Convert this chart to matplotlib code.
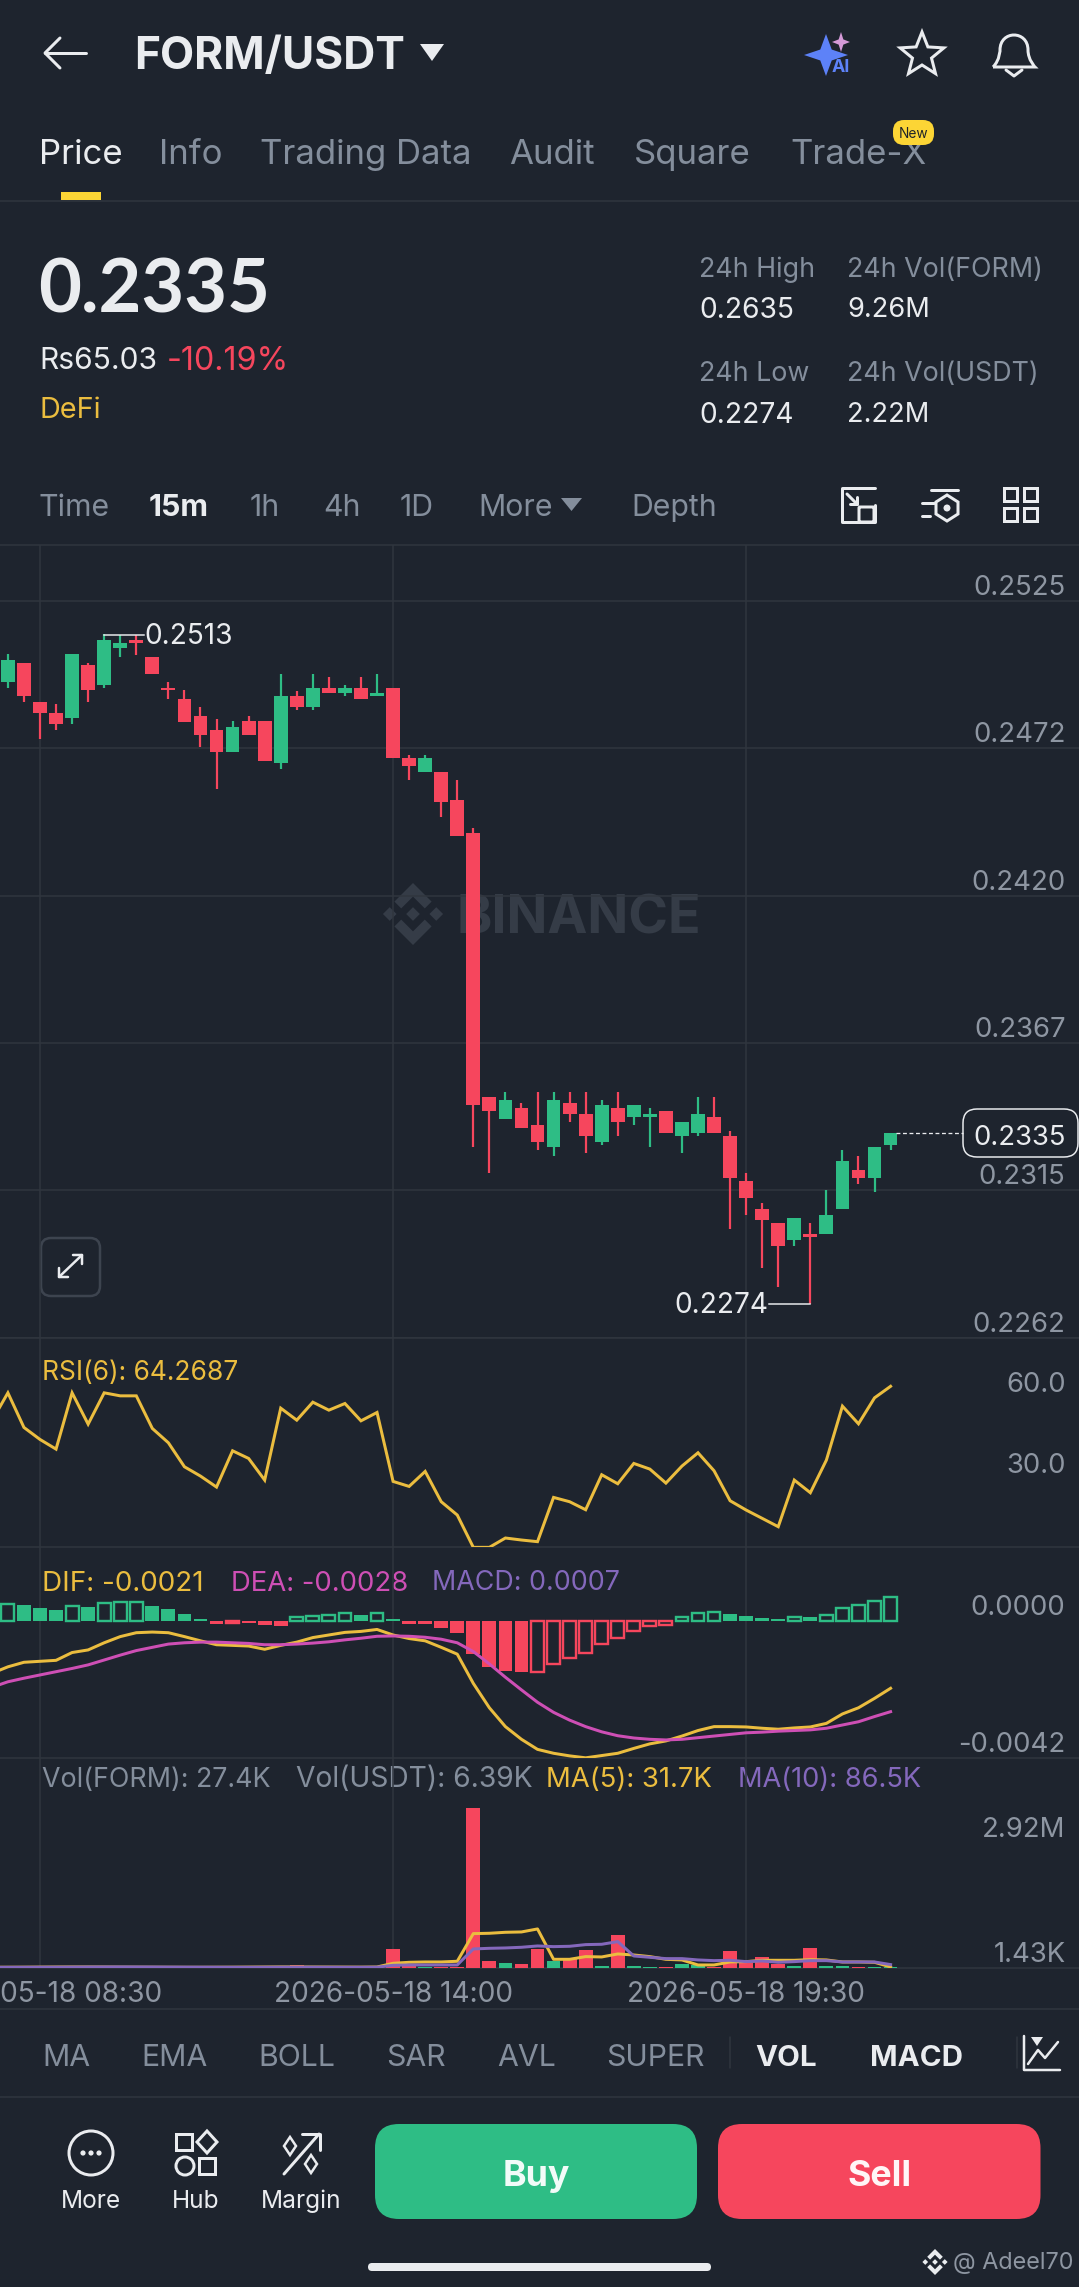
import numpy as np
import matplotlib
matplotlib.use("Agg")
import matplotlib.pyplot as plt
from matplotlib.patches import FancyBboxPatch, Polygon, Circle, Rectangle
from matplotlib.path import Path
from matplotlib.patches import PathPatch

opens = [.24960,.25030,.24891,.24850,.24831,.25020,.24950,.25081,.25111,.25050,.24941,.24900,.24841,.24789,.24711,.24820,.24820,.24670,.24911,.24870,.24939,.24920,.24939,.24911,.24941,.24691,.24641,.24641,.24539,.24420,
         .23478,.23399,.23438,.23379,.23299,.23459,.23418,.23319,.23438,.23409,.23409,.23429,.23340,.23349,.23409,.23340,.23178,.23079,.23028,.22968,.22988,.22988,.23079,.23218,.23188,.23309]
highs = [.25060,.25030,.24891,.24881,.25060,.25030,.25131,.25129,.25129,.25050,.24960,.24931,.24870,.24830,.24820,.24841,.24820,.24991,.24930,.24991,.24980,.24950,.24980,.24991,.24941,.24699,.24699,.24641,.24611,.24439,
         .23478,.23498,.23459,.23498,.23498,.23498,.23498,.23468,.23498,.23449,.23438,.23429,.23388,.23478,.23478,.23359,.23209,.23099,.23028,.23048,.23028,.23147,.23288,.23269,.23299,.23349]
lows = [.24941,.24891,.24757,.24789,.24811,.24889,.24941,.25050,.25058,.24989,.24900,.24819,.24730,.24577,.24711,.24770,.24680,.24650,.24860,.24860,.24920,.24911,.24900,.24911,.24691,.24611,.24641,.24480,.24410,.23299,
        .23209,.23399,.23369,.23288,.23269,.23388,.23279,.23309,.23340,.23379,.23299,.23349,.23279,.23340,.23349,.23007,.23059,.22869,.22799,.22948,.22738,.22988,.23079,.23168,.23138,.23288]
closes = [.25039,.24911,.24850,.24811,.25060,.24931,.25111,.25099,.25101,.24989,.24931,.24819,.24770,.24711,.24800,.24770,.24680,.24911,.24870,.24939,.24920,.24939,.24900,.24920,.24691,.24661,.24691,.24531,.24410,.23449,
          .23430,.23468,.23369,.23319,.23468,.23418,.23340,.23449,.23388,.23449,.23418,.23349,.23388,.23418,.23349,.23188,.23118,.23038,.22948,.23048,.22978,.23057,.23249,.23188,.23299,.23349]

rsi = [51.5,61.86,49.07,44.64,41.07,61.86,50.29,61.86,60.75,60.75,48.70,43.41,34.55,31.11,27.05,40.45,37.62,29.63,56.20,51.77,58.41,55.46,57.92,51.52,54.60,29.14,27.29,32.83,21.64,16.72,4.78,4.78,8.23,7.49,6.88,23.23,21.64,18.68,31.60,28.28,35.78,33.69,28.52,34.80,39.72,33.07,22.00,18.56,15.49,12.41,29.63,24.96,37.01,56.94,50.42,60.01,64.27]

dif = [-.00161,-.00141,-.00127,-.00124,-.00121,-.00097,-.00089,-.00067,-.00048,-.00036,-.00034,-.00036,-.00048,-.00061,-.00073,-.00075,-.00077,-.00087,-.00075,-.00065,-.00051,-.00043,-.00035,-.00032,-.00026,-.00043,-.00054,-.00061,-.00081,-.00102,-.00192,-.00267,-.00325,-.00364,-.00395,-.00407,-.00415,-.00421,-.00414,-.00407,-.00392,-.00378,-.00369,-.00354,-.00337,-.00325,-.00325,-.00326,-.00330,-.00333,-.00329,-.00326,-.00315,-.00286,-.00267,-.00238,-.00207]
dea = [-.00204,-.00187,-.00176,-.00166,-.00156,-.00146,-.00135,-.00120,-.00105,-.00091,-.00081,-.00071,-.00067,-.00065,-.00065,-.00067,-.00069,-.00073,-.00073,-.00071,-.00068,-.00064,-.00058,-.00053,-.00047,-.00046,-.00047,-.00050,-.00056,-.00067,-.00094,-.00132,-.00173,-.00212,-.00250,-.00281,-.00305,-.00325,-.00341,-.00353,-.00360,-.00364,-.00366,-.00364,-.00359,-.00354,-.00349,-.00344,-.00342,-.00339,-.00337,-.00335,-.00330,-.00320,-.00310,-.00294,-.00279]
macd = [.00051,.00048,.00041,.00034,.00047,.00042,.00054,.00058,.00059,.00047,.00036,.00021,.00007,-.00008,-.00007,-.00007,-.00013,-.00014,.00011,.00015,.00018,.00024,.00018,.00024,.00007,-.00008,-.00008,-.00023,-.00036,-.00103,-.00141,-.00153,-.00157,-.00156,-.00133,-.00113,-.00097,-.00071,-.00051,-.00031,-.00015,-.00012,.00011,.00024,.00028,.00022,.00015,.00008,.00007,.00011,.00011,.00019,.00039,.00048,.00062,.00073]

vol = [12e3,10e3,14e3,11e3,16e3,13e3,15e3,9e3,10e3,12e3,9e3,10e3,11e3,13e3,10e3,9e3,14e3,18e3,78e3,15e3,12e3,10e3,11e3,9e3,444e3,78e3,30e3,25e3,30e3,3753e3,171e3,117e3,101e3,444e3,179e3,210e3,428e3,55e3,771e3,45e3,40e3,40e3,109e3,78e3,39e3,413e3,132e3,273e3,93e3,60e3,483e3,45e3,45e3,40e3,35e3,27.4e3]
ma5 = [24e3,25e3,26e3,28e3,30e3,31e3,31e3,30e3,28e3,27e3,26e3,25e3,24e3,24e3,25e3,26e3,28e3,30e3,32e3,31e3,30e3,29e3,28e3,27e3,30e3,117e3,140e3,148e3,148e3,164e3,810e3,818e3,841e3,849e3,919e3,210e3,210e3,273e3,265e3,335e3,311e3,273e3,210e3,195e3,78e3,78e3,148e3,156e3,187e3,187e3,187e3,202e3,195e3,148e3,148e3,140e3,31.7e3]
ma10 = [22e3,23e3,24e3,25e3,26e3,28e3,30e3,31e3,32e3,31e3,30e3,28e3,27e3,26e3,25e3,24e3,24e3,25e3,26e3,27e3,26e3,25e3,24e3,24e3,26e3,70e3,78e3,78e3,78e3,78e3,452e3,467e3,475e3,491e3,522e3,506e3,514e3,553e3,561e3,623e3,288e3,257e3,226e3,226e3,195e3,179e3,187e3,156e3,171e3,140e3,156e3,179e3,179e3,148e3,148e3,148e3,86.5e3]

price_ticks = [.2525,.24724,.24198,.23672,.23146,.2262]
rsi_ticks = [60.0,30.0]
macd_ticks = [0.0,-0.0042]
vol_ticks = [1430,2920000]
vol_tick_labels = ["1.43K","2.92M"]
time_ticks = [2,24,46]
time_labels = ["2026-05-18 08:30","2026-05-18 14:00","2026-05-18 19:30"]
price_high, price_low, last_price = 0.2513, 0.2274, 0.2335

BG="#1E242E"; GRID="#30363F"; GREEN="#2EBD85"; RED="#F6465D"; YEL="#EBBD3F"; MAG="#CE4FB5"; PUR="#8468BC"
GRAY="#848E9C"; TICK="#8E96A2"; WHITE="#EAECEF"
FONT="Inter"
plt.rcParams['font.family']=[FONT,'DejaVu Sans']
W,H=1079,2287
fig=plt.figure(figsize=(W/100,H/100),dpi=100,facecolor=BG)
px=72/100
LW=3.0

ui=fig.add_axes([0,0,1,1],zorder=0); ui.set_xlim(0,W); ui.set_ylim(H,0); ui.axis('off')

def T(x,yc,s,cap,color=WHITE,ha='left',weight='normal',**kw):
    return ui.text(x,yc+cap/2,s,fontsize=cap/0.727*px,color=color,ha=ha,va='baseline',fontweight=weight,**kw)
def L(xs,ys,color=WHITE,lw=2.5,**kw):
    ui.plot(xs,ys,color=color,lw=lw*px,solid_capstyle='round',solid_joinstyle='round',**kw)
def box(x0,y0,x1,y1,r,fc='none',ec='none',lw=0,z=2):
    ui.add_patch(FancyBboxPatch((x0,y0),x1-x0,y1-y0,boxstyle=f"round,pad=0,rounding_size={r}",fc=fc,ec=ec,lw=lw*px,zorder=z))

ax_price=fig.add_axes([0,1-1337.5/H,1,(1337.5-545)/H],zorder=2,facecolor='none')
ax_rsi=fig.add_axes([0,1-1547.3/H,1,(1547.3-1337.5)/H],zorder=2,facecolor='none')
ax_macd=fig.add_axes([0,1-1757.5/H,1,(1757.5-1547.3)/H],zorder=2,facecolor='none')
ax_vol=fig.add_axes([0,1-1968.3/H,1,(1968.3-1757.5)/H],zorder=2,facecolor='none')

xs=np.arange(len(opens)); xl=np.arange(-1,len(opens))
o,c,h,l=map(np.array,(opens,closes,highs,lows))
up=c>=o; cols=np.where(up,GREEN,RED)
XLIM=(-0.492,66.74)

for a in (ax_price,ax_rsi,ax_macd,ax_vol):
    a.set_xlim(*XLIM)
    a.set_xticks(time_ticks)
    a.tick_params(axis='x',length=0,labelbottom=False)
    a.grid(axis='x',color=GRID,lw=1.5*px,zorder=0)
    a.set_axisbelow(True)
    for sp in ('left','right','top'): a.spines[sp].set_visible(False)
    a.spines['bottom'].set_color(GRID); a.spines['bottom'].set_linewidth(1.5*px)
    a.yaxis.tick_right()

def ylabels(a,ticks,labels):
    a.set_yticks(ticks); a.set_yticklabels(labels)
    a.tick_params(axis='y',length=0,pad=-13.5*px,labelsize=27.5*px,labelcolor=TICK)
    for t in a.get_yticklabels():
        t.set_ha('right'); t.set_va('bottom')

# price
ax_price.set_ylim(0.2262,0.2545)
ylabels(ax_price,price_ticks,[f"{v:.4f}" for v in price_ticks])
ax_price.grid(axis='y',color=GRID,lw=1.5*px,zorder=0)
ax_price.spines['top'].set_visible(True); ax_price.spines['top'].set_color(GRID); ax_price.spines['top'].set_linewidth(1.5*px)
ax_price.vlines(xs,l,h,colors=cols,lw=2.2*px,zorder=3)
ax_price.bar(xs,np.maximum(np.abs(c-o),0.00005),bottom=np.minimum(o,c),width=0.86,color=cols,zorder=4)
ax_price.plot([6,8.48],[price_high]*2,color=WHITE,lw=1.5*px,zorder=5)
ax_price.annotate(f"{price_high:.4f}",(8.48,price_high),xytext=(0,-2*px),textcoords='offset points',color=WHITE,fontsize=28*px,va='center',ha='left',zorder=5)
ax_price.plot([47.4,50],[price_low]*2,color=WHITE,lw=1.5*px,zorder=5)
ax_price.annotate(f"{price_low:.4f}",(47.4,price_low),xytext=(0,-2*px),textcoords='offset points',color=WHITE,fontsize=28*px,va='center',ha='right',zorder=5)
ax_price.plot([55.34,59.5],[last_price]*2,color=WHITE,lw=1.3*px,ls=(0,(3,2)),zorder=5)

# rsi
ax_rsi.set_ylim(4.8,82.3)
ylabels(ax_rsi,rsi_ticks,[f"{v:.1f}" for v in rsi_ticks])
ax_rsi.plot(xl,rsi,color=YEL,lw=LW*px,zorder=3,solid_joinstyle='miter')

# macd
ax_macd.set_ylim(-0.0042,0.002268)
ylabels(ax_macd,macd_ticks,[f"{v:.4f}" for v in macd_ticks])
m=np.array(macd); rising=np.diff(m,prepend=0.0)>0
mc=np.where(m>=0,GREEN,RED)
ax_macd.bar(xs[~rising],m[~rising],width=0.86,color=mc[~rising],zorder=3)
ax_macd.bar(xs[rising],m[rising],width=0.80,facecolor='none',edgecolor=mc[rising],lw=2.4*px,zorder=3)
ax_macd.plot(xl,dif,color=YEL,lw=LW*px,zorder=4)
ax_macd.plot(xl,dea,color=MAG,lw=LW*px,zorder=5)

# volume
ax_vol.set_ylim(0,4923000)
ylabels(ax_vol,vol_ticks,vol_tick_labels)
ax_vol.bar(xs,vol,width=0.86,color=cols,zorder=3)
ax_vol.plot(xl,ma5,color=YEL,lw=LW*px,zorder=4)
ax_vol.plot(xl,ma10,color=PUR,lw=LW*px,zorder=5)
ax_vol.set_xticklabels(time_labels)
ax_vol.tick_params(axis='x',labelbottom=True,labelsize=28*px,labelcolor=TICK,pad=9.5)

# header
L([86,45],[53,53],lw=3); L([60,45,60],[38,53,68],lw=3)
T(134,53,"FORM/USDT",32.3,weight='bold')
ui.add_patch(Polygon([(420,44),(444,44),(432,61)],fc=WHITE,ec='none'))
def star4(cx,cy,rx,ry,color):
    k=0.26
    ui.add_patch(Polygon([(cx,cy-ry),(cx+rx*k,cy-ry*k),(cx+rx,cy),(cx+rx*k,cy+ry*k),(cx,cy+ry),(cx-rx*k,cy+ry*k),(cx-rx,cy),(cx-rx*k,cy-ry*k)],fc=color,ec='none'))
star4(826,55,22,21,"#5D82F8"); star4(841,42,9,10,"#D59AD8")
T(832,66,"AI",13,color="#5D82F8",weight='bold')
ang=np.deg2rad(np.arange(0,360,36)-90); rad=np.where(np.arange(10)%2==0,23,10)
ui.add_patch(Polygon(np.c_[922+rad*np.cos(ang),55+rad*np.sin(ang)],fc='none',ec=WHITE,lw=3*px,joinstyle='miter'))
bell=Path([(993,67),(1000,60),(1000,50),(1000,50),(1000,30),(1028,30),(1028,50),(1028,60),(1035,67),(1035,67),(993,67)],
          [1,4,4,4,4,4,4,4,4,2,2])
ui.add_patch(PathPatch(bell,fc='none',ec=WHITE,lw=3*px))
L([1006,1014,1022],[70,76,70],lw=3)

tabs=[("Price",39,WHITE),("Info",159,GRAY),("Trading Data",260,GRAY),("Audit",509,GRAY),("Square",634,GRAY),("Trade-X",790,GRAY)]
for s,x,cl in tabs: T(x,151.5,s,25.3,color=cl)
box(893,120,934,145,11,fc="#FCD535",z=5)
T(913.5,132.5,"New",10,color="#1E2329",ha='center',zorder=6)
ui.add_patch(Rectangle((60.5,192),40,8,fc="#FCD535",ec='none'))
L([0,W],[200.5,200.5],color=GRID,lw=1.5)

T(38,286,"0.2335",53.8,weight='bold',family='Lato')
T(39,358,"Rs65.03",21.8)
T(167,358,"-10.19%",23.5,color=RED)
T(39,408,"DeFi",21,color=YEL)
T(699,267,"24h High",19.5,color=GRAY); T(847,267,"24h Vol(FORM)",19.5,color=GRAY)
T(699,307.5,"0.2635",20.5); T(847,307.5,"9.26M",19.8)
T(699,371,"24h Low",19.5,color=GRAY); T(847,371,"24h Vol(USDT)",19.5,color=GRAY)
T(699,412.5,"0.2274",20.5); T(847,412.5,"2.22M",19.8)

for s,x,cl,wt in [("Time",39,GRAY,'normal'),("15m",149,WHITE,'bold'),("1h",250,GRAY,'normal'),("4h",323,GRAY,'normal'),("1D",400,GRAY,'normal'),("More",478,GRAY,'normal'),("Depth",631,GRAY,'normal')]:
    T(x,504.5,s,22,color=cl,weight=wt)
ui.add_patch(Polygon([(561,498),(582,498),(571.5,511)],fc=GRAY,ec='none'))
# tool icons
L([858,842,842,875,875],[488,488,522,522,505],lw=3); L([858,875],[488,488],lw=3)
box(859,507,874,522,1,ec=WHITE,lw=3); L([847,857],[494,504],lw=3); L([857,850],[504,504],lw=3); L([857,857],[504,497],lw=3)
L([931,958],[490,490],lw=3); L([922,934],[503,503],lw=3); L([922,930],[516,516],lw=3)
ui.add_patch(Polygon([(947,495),(958,502),(958,514),(947,521),(936,514),(936,502)],fc='none',ec=WHITE,lw=3*px))
ui.add_patch(Circle((947,508),3.5,fc=WHITE,ec='none'))
for x0,y0 in [(1004,488),(1024,488),(1004,508),(1024,508)]:
    ui.add_patch(Rectangle((x0,y0),13,13,fc='none',ec=WHITE,lw=3*px))

# current price box
box(963,1109,1078,1157,14,fc=BG,ec=WHITE,lw=1.5,z=6)
T(1065.5,1135,f"{last_price:.4f}",20,ha='right',zorder=7)

# watermark
def logo(cx,cy,s,color,z=1):
    def dia(x,y,r): ui.add_patch(Polygon([(x,y-r),(x+r,y),(x,y+r),(x-r,y)],fc=color,ec='none',zorder=z))
    dia(cx,cy,.22*s); dia(cx-.75*s,cy,.22*s); dia(cx+.75*s,cy,.22*s)
    for sg in (-1,1):
        ui.add_patch(Polygon([(cx,cy+sg*s),(cx+.6*s,cy+sg*.4*s),(cx+.38*s,cy+sg*.18*s),(cx,cy+sg*.56*s),(cx-.38*s,cy+sg*.18*s),(cx-.6*s,cy+sg*.4*s)],fc=color,ec='none',zorder=z))
logo(413,914,31,"#353C47")
T(456,914,"BINANCE",39,color="#353C47",weight='bold',zorder=1)

# expand button
box(41,1238,100,1296,10,ec="#3D444F",lw=2.5)
L([59,82],[1277,1255],lw=2.5); L([59,59,68],[1268,1277,1277],lw=2.5); L([73,82,82],[1255,1255,1264],lw=2.5)

# indicator legends
T(42,1370.7,"RSI(6): 64.2687",19.2,color=YEL)
T(42,1580.7,"DIF: -0.0021",20.2,color=YEL)
T(231,1580.7,"DEA: -0.0028",20,color=MAG)
T(432,1580.7,"MACD: 0.0007",19.5,color=PUR)
T(42,1777,"Vol(FORM): 27.4K",19.5,color=GRAY)
T(296,1777,"Vol(USDT): 6.39K",20.5,color=GRAY)
T(546,1777,"MA(5): 31.7K",20,color=YEL)
T(738,1777,"MA(10): 86.5K",19.8,color=PUR)

# bottom
L([0,W],[2009.3,2009.3],color=GRID,lw=1.5)
for s,x in [("MA",42),("EMA",141),("BOLL",258),("SAR",386),("AVL",497),("SUPER",606)]:
    T(x,2055,s,22,color=GRAY)
T(755,2055,"VOL",21.5,weight='bold'); T(870,2055,"MACD",21.5,weight='bold')
L([729.5,729.5],[2037,2068],color=GRID,lw=1.5); L([1016.5,1016.5],[2037,2068],color=GRID,lw=1.5)
L([1024,1024,1060],[2036,2070,2070],lw=2.5); L([1028,1038,1045,1058],[2064,2050,2058,2042],lw=2.5)
ui.add_patch(Polygon([(1031,2037),(1043,2037),(1037,2046)],fc=WHITE,ec='none'))
L([0,W],[2097.3,2097.3],color=GRID,lw=1.5)

ui.add_patch(Circle((91,2153),22,fc='none',ec=WHITE,lw=3*px))
for dx in (-8,0,8): ui.add_patch(Circle((91+dx,2153),2.6,fc=WHITE,ec='none'))
T(91,2199,"More",17.8,ha='center')
ui.add_patch(Rectangle((176,2134),16,16,fc='none',ec=WHITE,lw=3*px))
ui.add_patch(Polygon([(207,2131),(217,2142),(207,2153),(197,2142)],fc='none',ec=WHITE,lw=3*px))
ui.add_patch(Circle((185,2166),9,fc='none',ec=WHITE,lw=3*px))
ui.add_patch(Rectangle((199,2158),16,16,fc='none',ec=WHITE,lw=3*px))
T(196,2199,"Hub",17.8,ha='center')
L([284,319],[2174,2134],lw=3); L([302,320,320],[2134,2134,2150],lw=3)
ui.add_patch(Polygon([(290,2137),(296,2146),(290,2155),(284,2146)],fc='none',ec=WHITE,lw=2.5*px))
ui.add_patch(Polygon([(311,2155),(317,2164),(311,2173),(305,2164)],fc='none',ec=WHITE,lw=2.5*px))
T(301.5,2199,"Margin",17.8,ha='center')
box(375,2124,697,2219,24,fc=GREEN); box(718,2124,1040.5,2219,24,fc=RED)
T(536,2173,"Buy",26,ha='center',weight='bold',color="#F2FBF8",zorder=5)
T(879.5,2173,"Sell",26,ha='center',weight='bold',color="#FFF5F6",zorder=5)
box(368,2263,711,2271,4,fc=WHITE)
logo(935,2262,13,WHITE)
T(953,2261,"@ Adeel70",17,color=TICK)

fig.savefig("out.png",dpi=100,facecolor=BG)
